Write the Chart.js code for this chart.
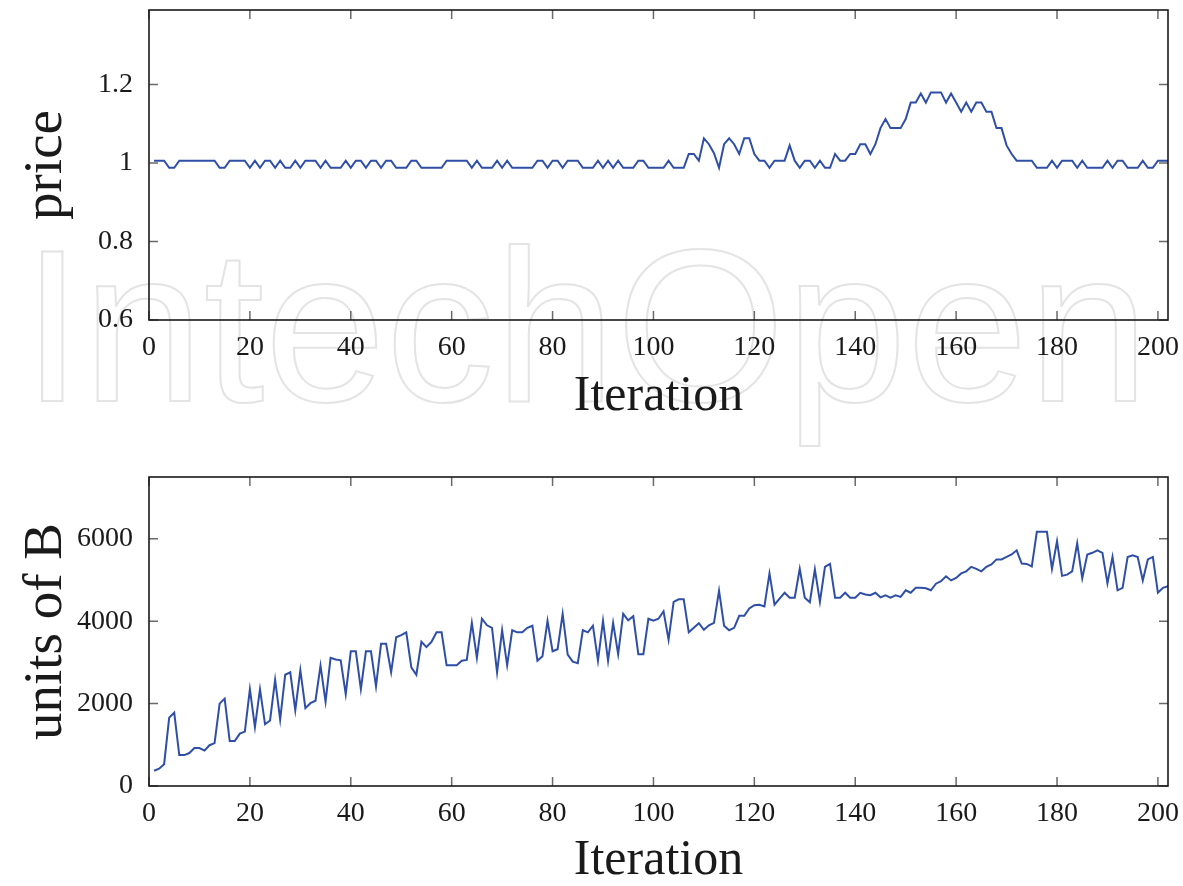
<!DOCTYPE html>
<html>
<head>
<meta charset="utf-8">
<script src="https://cdn.jsdelivr.net/npm/chart.js@4.4.1/dist/chart.umd.min.js"></script>
<style>
  html, body { margin: 0; padding: 0; background: #ffffff; }
  body { width: 1183px; height: 886px; position: relative; overflow: hidden; }
  #wm { position: absolute; left: 22px; top: 217px; font-family: 'Liberation Sans', sans-serif; font-size: 218px; line-height: 1; color: transparent; -webkit-text-stroke: 2px #e4e4e4; white-space: nowrap; }
  canvas { position: absolute; left: 0; }
  #c1 { top: 0; }
  #c2 { top: 443px; }
</style>
</head>
<body>
<div id="wm">IntechOpen</div>
<canvas id="c1" width="1183" height="443"></canvas>
<canvas id="c2" width="1183" height="443"></canvas>
<script>
// ---- data ----
const xTicks = [0, 20, 40, 60, 80, 100, 120, 140, 160, 180, 200];
const priceTicks = [0.6, 0.8, 1, 1.2];
const unitsTicks = [0, 2000, 4000, 6000];

const price = [
  1.006,1.006,1.006,0.988,0.988,1.006,1.006,1.006,1.006,1.006,
  1.006,1.006,1.006,0.988,0.988,1.006,1.006,1.006,1.006,0.988,
  1.006,0.988,1.006,1.006,0.988,1.006,0.988,0.988,1.006,0.988,
  1.006,1.006,1.006,0.988,1.006,0.988,0.988,0.988,1.006,0.988,
  1.006,1.006,0.988,1.006,1.006,0.988,1.006,1.006,0.988,0.988,
  0.988,1.006,1.006,0.988,0.988,0.988,0.988,0.988,1.006,1.006,
  1.006,1.006,1.006,0.988,1.006,0.988,0.988,0.988,1.006,0.988,
  1.006,0.988,0.988,0.988,0.988,0.988,1.006,1.006,0.988,1.006,
  1.006,0.988,1.006,1.006,1.006,0.988,0.988,0.988,1.006,0.988,
  1.006,0.988,1.006,0.988,0.988,0.988,1.006,1.006,0.988,0.988,
  0.988,0.988,1.006,0.988,0.988,0.988,1.023,1.023,1.006,1.063,
  1.048,1.025,0.988,1.048,1.063,1.048,1.023,1.063,1.063,1.023,
  1.006,1.006,0.988,1.006,1.006,1.006,1.045,1.006,0.988,1.006,
  1.006,0.988,1.006,0.988,0.988,1.023,1.006,1.006,1.023,1.023,
  1.048,1.048,1.023,1.048,1.089,1.112,1.089,1.089,1.089,1.112,
  1.154,1.154,1.177,1.154,1.180,1.180,1.180,1.154,1.177,1.154,
  1.131,1.154,1.131,1.154,1.154,1.131,1.131,1.089,1.089,1.045,
  1.023,1.006,1.006,1.006,1.006,0.988,0.988,0.988,1.006,0.988,
  1.006,1.006,1.006,0.988,1.006,0.988,0.988,0.988,0.988,1.006,
  0.988,1.006,1.006,0.988,0.988,0.988,1.006,0.988,0.988,1.006,
  1.006,1.006
];

const unitsB = [
  370,420,530,1660,1780,750,750,800,920,920,
  860,990,1040,2000,2120,1090,1090,1270,1320,2350,
  1430,2350,1500,1590,2580,1610,2700,2760,1840,2810,
  1890,2010,2070,2920,2050,3110,3070,3050,2230,3270,
  3270,2350,3270,3270,2420,3450,3450,2760,3610,3660,
  3730,2880,2700,3500,3370,3500,3730,3730,2930,2930,
  2930,3040,3060,3960,3110,4060,3900,3840,2760,3780,
  2930,3780,3730,3730,3840,3890,3040,3150,4010,3270,
  3320,4180,3190,3020,2980,3780,3730,3890,3040,4010,
  3040,3960,3200,4180,4020,4120,3200,3200,4060,4010,
  4060,4240,3550,4470,4530,4530,3730,3840,3950,3790,
  3900,3960,4740,3890,3780,3840,4130,4130,4310,4390,
  4400,4360,5160,4400,4550,4690,4570,4570,5270,4570,
  4460,5260,4470,5320,5390,4570,4570,4690,4570,4570,
  4690,4650,4630,4690,4580,4630,4570,4630,4590,4750,
  4690,4810,4810,4800,4750,4910,4970,5090,4990,5050,
  5160,5210,5320,5270,5210,5320,5380,5500,5500,5560,
  5620,5720,5400,5390,5330,6170,6170,6170,5270,5940,
  5100,5130,5210,5890,5040,5620,5660,5720,5660,4920,
  5560,4750,4810,5560,5600,5560,4990,5500,5560,4690,
  4810,4850
];

const iterations = price.map((_, k) => k + 1);

// ---- styling ----
const SERIF = "'Liberation Serif', 'Times New Roman', serif";
const LINE_COLOR = '#2f4fa6';

const framePlugin = {
  id: 'frame',
  afterDatasetsDraw(chart) {
    const { ctx, chartArea: a, scales } = chart;
    const x = scales.x, y = scales.y;
    const L = 9;
    ctx.save();
    ctx.strokeStyle = '#6a6a6a';
    ctx.lineWidth = 1.5;
    ctx.beginPath();
    x.ticks.forEach(t => {
      const px = x.getPixelForValue(t.value);
      ctx.moveTo(px, a.bottom); ctx.lineTo(px, a.bottom - L);
      ctx.moveTo(px, a.top); ctx.lineTo(px, a.top + L);
    });
    y.ticks.forEach(t => {
      const py = y.getPixelForValue(t.value);
      ctx.moveTo(a.left, py); ctx.lineTo(a.left + L, py);
      ctx.moveTo(a.right, py); ctx.lineTo(a.right - L, py);
    });
    ctx.stroke();
    ctx.strokeStyle = '#1a1a1a';
    ctx.lineWidth = 1.6;
    ctx.strokeRect(a.left, a.top, a.right - a.left, a.bottom - a.top);
    ctx.restore();
  }
};

function makeChart(id, values, yMin, yMax, yTickVals, yTitle, padTop, xAxisHeight, xTitlePadBottom) {
  return new Chart(document.getElementById(id), {
    type: 'line',
    data: {
      datasets: [{
        data: iterations.map((it, k) => ({ x: it, y: values[k] })),
        borderColor: LINE_COLOR,
        borderWidth: 2,
        pointRadius: 0,
        tension: 0,
        fill: false
      }]
    },
    options: {
      responsive: false,
      animation: false,
      devicePixelRatio: 1,
      layout: { padding: { left: 0, right: 15, top: padTop, bottom: 0 } },
      plugins: { legend: { display: false }, tooltip: { enabled: false } },
      scales: {
        x: {
          type: 'linear',
          min: 0,
          max: 202,
          afterBuildTicks: s => { s.ticks = xTicks.map(v => ({ value: v })); },
          afterFit: s => { s.height = xAxisHeight; s.paddingLeft = 0; s.paddingRight = 0; },
          grid: { display: false },
          border: { display: false },
          ticks: {
            color: '#1a1a1a',
            font: { family: SERIF, size: 28 },
            padding: 3,
            maxRotation: 0,
            autoSkip: false,
            callback: v => String(v)
          },
          title: {
            display: true,
            text: 'Iteration',
            color: '#1a1a1a',
            font: { family: SERIF, size: 50, lineHeight: 1 },
            padding: { top: 0, bottom: xTitlePadBottom }
          }
        },
        y: {
          type: 'linear',
          min: yMin,
          max: yMax,
          afterBuildTicks: s => { s.ticks = yTickVals.map(v => ({ value: v })); },
          afterFit: s => { s.width = 149; s.paddingTop = 0; s.paddingBottom = 0; },
          grid: { display: false },
          border: { display: false },
          ticks: {
            color: '#1a1a1a',
            font: { family: SERIF, size: 28 },
            padding: 8,
            autoSkip: false,
            callback: v => String(v)
          },
          title: {
            display: true,
            text: yTitle,
            color: '#1a1a1a',
            font: { family: SERIF, size: 55, lineHeight: 1 },
            padding: { top: 19, bottom: 0 }
          }
        }
      }
    },
    plugins: [framePlugin]
  });
}

makeChart('c1', price, 0.6, 1.39, priceTicks, 'price', 10, 123, 21);
makeChart('c2', unitsB, 0, 7500, unitsTicks, 'units of B', 34, 100, 0);
</script>
</body>
</html>
